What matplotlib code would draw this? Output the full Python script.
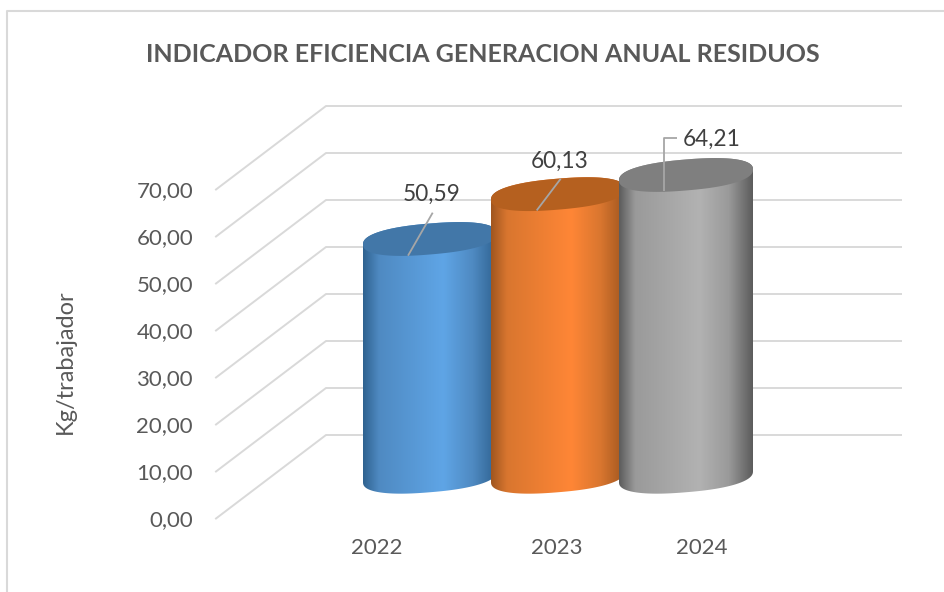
"""Cylinder column chart with a fake 3D wall, annual waste indicator."""

import numpy as np
import matplotlib
matplotlib.use("Agg")
import matplotlib.pyplot as plt
from matplotlib.colors import LinearSegmentedColormap
from matplotlib.lines import Line2D
from matplotlib.patches import Polygon

plt.rcParams["font.family"] = ["Lato", "DejaVu Sans"]

# Data
categories = ["2022", "2023", "2024"]
values = [50.59, 60.13, 64.21]
value_labels = ["50,59", "60,13", "64,21"]
y_ticks = [0, 10, 20, 30, 40, 50, 60, 70]
y_tick_labels = ["0,00", "10,00", "20,00", "30,00", "40,00", "50,00", "60,00", "70,00"]

# Colours: side gradient (edge, mid, light) and top face
side_colors = [
    ("#2f6290", "#4f8ac2", "#5fa5e6"),
    ("#a0561f", "#d9762f", "#ff8636"),
    ("#5c5c5c", "#9a9a9a", "#b2b2b2"),
]
top_colors = ["#4277a8", "#b5601f", "#7f7f7f"]
GRID = "#d9d9d9"
TEXT = "#595959"
LEADER = "#a6a6a6"

# Pixel geometry of the plot box
W, H = 944, 592
LEFT, RIGHT, BOTTOM, TOP = 216, 901, 518.5, 189.5
PX_PER_UNIT = (BOTTOM - TOP) / 70
PX_PER_CAT = 128
FIRST_CENTER = 430

# Wall depth, and cylinder ellipse, converted to data units
DEPTH_X = 110 / PX_PER_CAT
DEPTH_Y = 83.5 / PX_PER_UNIT
ELL_A = 67 / PX_PER_CAT
ELL_B = 15.5 / PX_PER_UNIT
ELL_K = 5.5 / PX_PER_UNIT
ELL_POW = 0.85  # below 1 squares the ends off a little, like the original

# Label and leader offsets from the top-face centre, pixels (dx, dy upward)
label_offsets = [(2, 45), (2, 33), (26, 36)]
leader_paths = [
    [(-22, -16.7), (2.7, 26.3)],
    [(-21.3, -16.3), (2.7, 15.4)],
    [(-22, -16), (-22, 37), (-9, 37)],
]
xtick_offsets = [-53, -1, 16]


def ellipse(center, level, t):
    """Tilted, slightly squared ellipse points for the cylinder cross-section."""
    c = np.sign(np.cos(t)) * np.abs(np.cos(t)) ** ELL_POW
    s = np.sign(np.sin(t)) * np.abs(np.sin(t)) ** ELL_POW
    return center + ELL_A * c, level + ELL_B * s + ELL_K * c


fig = plt.figure(figsize=(W / 100, H / 100), dpi=100, facecolor="white")
ax = fig.add_axes([LEFT / W, 1 - BOTTOM / H, (RIGHT - LEFT) / W, (BOTTOM - TOP) / H])
xmin = (LEFT - FIRST_CENTER) / PX_PER_CAT
xmax = (RIGHT - FIRST_CENTER) / PX_PER_CAT

# Wall gridlines
for v in y_ticks:
    ax.plot([xmin, xmin + DEPTH_X, xmax], [v, v + DEPTH_Y, v + DEPTH_Y],
            color=GRID, lw=1.4, clip_on=False, zorder=1)

# Cylinders, each foot sits half way into the floor
for i, val in enumerate(values):
    z = 3 + i
    floor = DEPTH_Y / 2
    top = val + floor

    t_low = np.linspace(np.pi, 2 * np.pi, 80)
    t_up = np.linspace(0, np.pi, 80)
    x1, y1 = ellipse(i, floor, t_low)
    x2, y2 = ellipse(i, top, t_up)
    body = Polygon(np.column_stack([np.r_[x1, x2], np.r_[y1, y2]]), closed=True,
                   facecolor="none", edgecolor="none", transform=ax.transData)
    ax.add_patch(body)

    edge, mid, light = side_colors[i]
    cmap = LinearSegmentedColormap.from_list(
        f"side{i}", [(0, edge), (0.12, mid), (0.6, light), (0.82, mid), (1, edge)])
    grad = np.linspace(0, 1, 256).reshape(1, -1)
    im = ax.imshow(grad, cmap=cmap, aspect="auto", zorder=z, interpolation="bilinear",
                   extent=(i - ELL_A, i + ELL_A, floor - 10, top + 10))
    im.set_clip_path(body)
    im.set_clip_box(fig.bbox)

    t_all = np.linspace(0, 2 * np.pi, 160)
    x3, y3 = ellipse(i, top, t_all)
    ax.fill(x3, y3, color=top_colors[i], lw=0, clip_on=False, zorder=z + 0.1)

    # Leader line and value label
    pts = leader_paths[i]
    ax.plot([i + p[0] / PX_PER_CAT for p in pts],
            [top + p[1] / PX_PER_UNIT for p in pts],
            color=LEADER, lw=1.3, clip_on=False, zorder=10, solid_capstyle="butt")
    dx, dy = label_offsets[i]
    ax.text(i + dx / PX_PER_CAT, top + dy / PX_PER_UNIT, value_labels[i],
            ha="center", va="center", fontsize=16.3, color="#404040", zorder=11)

ax.set_xlim(xmin, xmax)
ax.set_ylim(0, 70)
for spine in ax.spines.values():
    spine.set_visible(False)
ax.patch.set_alpha(0)

ax.set_yticks(y_ticks)
ax.set_yticklabels(y_tick_labels, fontsize=16, color=TEXT)
ax.set_xticks([i + off / PX_PER_CAT for i, off in enumerate(xtick_offsets)])
ax.set_xticklabels(categories, fontsize=16, color=TEXT)
ax.tick_params(axis="y", length=0, pad=16.5)
ax.tick_params(axis="x", length=0, pad=14)

fig.text(65 / W, 1 - 362 / H, "Kg/trabajador", rotation=90, ha="center", va="center",
         fontsize=17, color=TEXT)
fig.text(483 / W, 1 - 54 / H, "INDICADOR EFICIENCIA GENERACION ANUAL RESIDUOS",
         ha="center", va="center", fontsize=18, fontweight="bold", color=TEXT)

# Chart frame: only left and top edges are in the crop
fig.add_artist(Line2D([6.5 / W, 6.5 / W, 1], [0, 1 - 11 / H, 1 - 11 / H],
                      color=GRID, lw=1.5, transform=fig.transFigure))

fig.savefig("out.png", dpi=100)
plt.close(fig)
